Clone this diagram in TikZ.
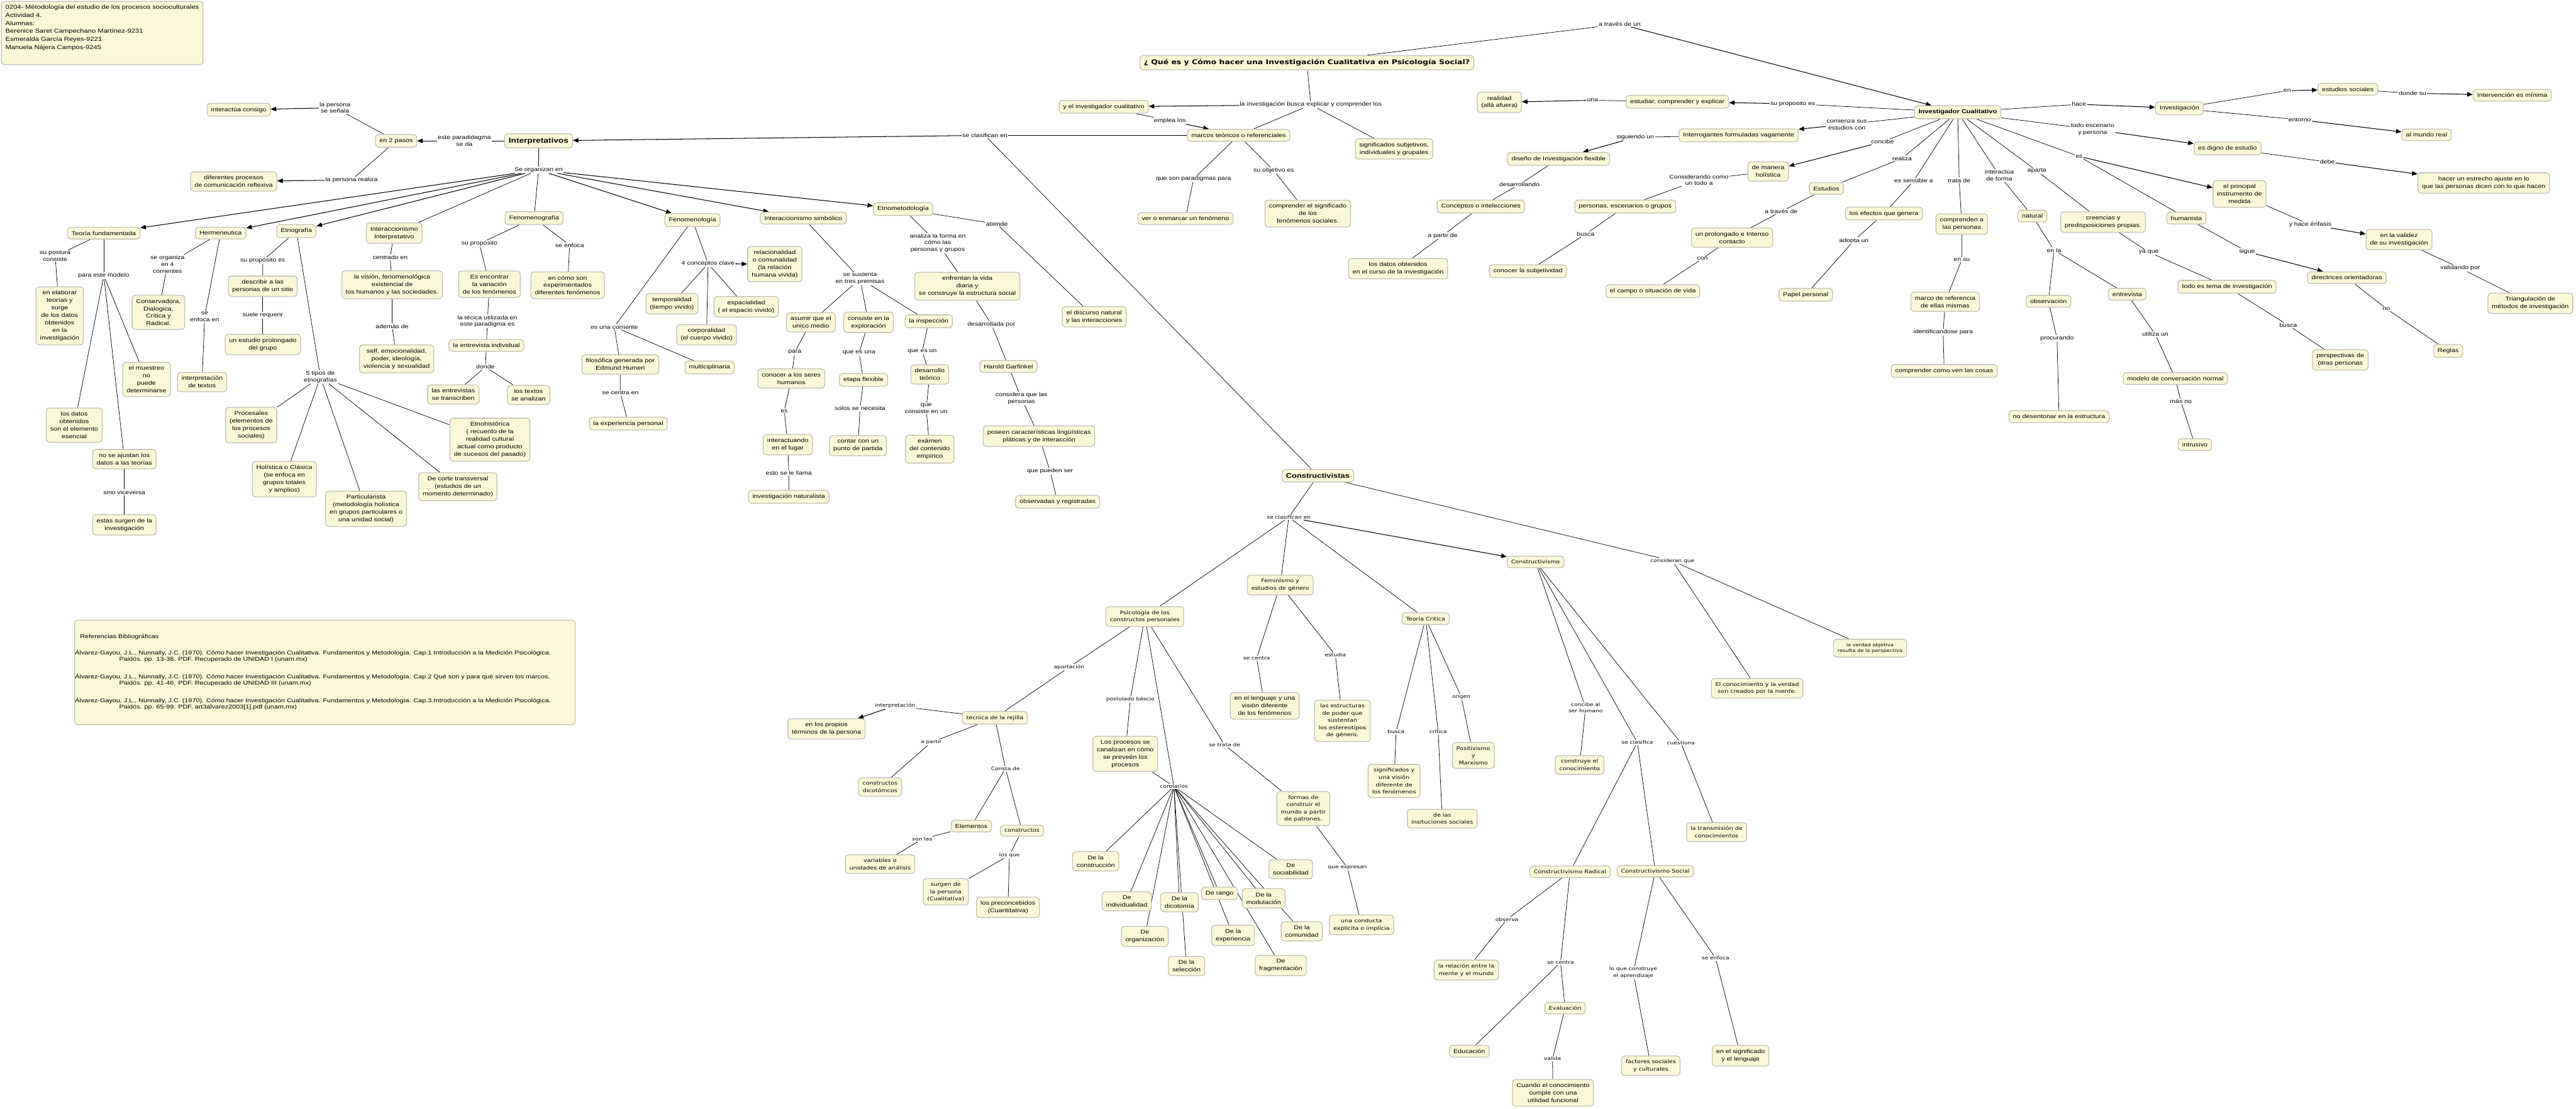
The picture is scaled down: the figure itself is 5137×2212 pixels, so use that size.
\documentclass[tikz,border=0pt]{standalone}
\usepackage{fontspec}
\setmainfont{Liberation Sans}[FakeStretch=1.2]
\newfontfamily\verdfont{DejaVu Sans}[FakeStretch=1.2]
\usetikzlibrary{positioning,arrows.meta,backgrounds}
\definecolor{cmfill}{RGB}{250,248,214}
\definecolor{cmline}{RGB}{192,192,182}
\tikzset{
  concept/.style={draw=cmline, fill=cmfill, line width=1.6pt, rounded corners=6pt,
    inner xsep=8pt, inner ysep=7.5pt, align=center, font=\fontsize{11.3}{15}\selectfont},
  vconcept/.style={concept, font=\verdfont\fontsize{10}{14.5}\selectfont},
  vsmall/.style={concept, font=\verdfont\fontsize{8.7}{12}\selectfont},
  hub/.style={concept, font=\bfseries\fontsize{14.3}{17}\selectfont},
  link/.style={inner sep=1.5pt, align=center, font=\fontsize{11}{13.5}\selectfont},
  vlink/.style={link, font=\verdfont\fontsize{9.5}{13}\selectfont},
  infobox/.style={draw=cmline, fill=cmfill, line width=1.6pt, rounded corners=6pt},
  conn/.style={draw=black, line width=0.9pt},
  arr/.style={conn, line width=1.3pt, -{Triangle[length=11pt,width=9pt]}},
}
\begin{document}
\begin{tikzpicture}[x=1pt, y=-1pt, on grid]
\useasboundingbox (0,0) rectangle (5137,2212);

% datos del trabajo
\node[infobox, anchor=north west, inner xsep=8pt, inner ysep=7pt,
  font=\fontsize{11.7}{16}\selectfont] (header) at (2,2)
  {\parbox[t][112pt][t]{386pt}{\raggedright
   0204- Métodología del estudio de los procesos socioculturales\\
   Actividad 4.\\
   Alumnas:\\
   Berenice Saret Campechano Martínez-9231\\
   Esmeralda García Reyes-9221\\
   Manuela Nájera Campos-9245}};

\node[infobox, anchor=north west, inner xsep=1pt, inner ysep=2pt,
  font=\fontsize{11.3}{12.5}\selectfont] (refs) at (148,1236)
  {\parbox[t][205pt][t]{996pt}{\raggedright\vspace*{26pt}
   \hspace*{10pt}\mbox{Referencias Bibliográficas}\\[20.5pt]
   \mbox{Álvarez-Gayou, J.L., Nunnally, J.C. (1970). Cómo hacer Investigación Cualitativa. Fundamentos y Metodología. Cap.1 Introducción a la Medición Psicológica.}\\
   \hspace*{88pt}\mbox{Paidós. pp. 13-38. PDF. Recuperado de UNIDAD I (unam.mx)}\\[22.5pt]
   \mbox{Álvarez-Gayou, J.L., Nunnally, J.C. (1970). Cómo hacer Investigación Cualitativa. Fundamentos y Metodología. Cap.2 Qué son y para qué sirven los marcos.}\\
   \hspace*{88pt}\mbox{Paidós. pp. 41-46. PDF. Recuperado de UNIDAD III (unam.mx)}\\[22.5pt]
   \mbox{Álvarez-Gayou, J.L., Nunnally, J.C. (1970). Cómo hacer Investigación Cualitativa. Fundamentos y Metodología. Cap.3.Introducción a la Medición Psicológica.}\\
   \hspace*{88pt}\mbox{Paidós. pp. 65-99. PDF. art3alvarez2003[1].pdf (unam.mx)}}};

% pregunta central
\node[hub, font=\verdfont\bfseries\fontsize{13}{16}\selectfont] (title) at (2606,125) {¿ Qué es y Cómo hacer una Investigación Cualitativa en Psicología Social?};
\node[link, above right=77pt and 624pt of title] (l-atraves) {a través de un};
\node[concept, font=\bfseries\fontsize{11.5}{14}\selectfont, below right=176pt and 674pt of l-atraves] (invcual) {Investigador Cualitativo};
\node[link, below right=84pt and 8pt of title] (l-busca) {la investigación busca explicar y comprender los};
\node[concept, below left=4pt and 413pt of l-busca] (yinv) {y el investigador cualitativo};
\node[concept, below left=61pt and 144pt of l-busca] (marcos) {marcos teóricos o referenciales};
\node[concept, below right=88pt and 166pt of l-busca] (signif) {significados subjetivos,\\individuales y grupales};
\node[link, below right=28pt and 132pt of yinv] (l-emplea) {emplea los};
\node[link, left=506pt of marcos] (l-clasif) {se clasifican en};
\node[link, below left=87pt and 90pt of marcos] (l-parad) {que son paradigmas para};
\node[concept, below left=79pt and 16pt of l-parad] (enmarcar) {ver o enmarcar un fenómeno};
\node[link, below right=70pt and 70pt of marcos] (l-objet) {su objetivo es};
\node[concept, below right=86pt and 68pt of l-objet] (comprsig) {comprender el significado\\de los\\fenómenos sociales.};

% Interpretativos
\node[hub, below left=11pt and 890pt of l-clasif] (interp) {Interpretativos};
\node[link, left=148pt of interp] (l-2pasos) {este paradidagma\\se da};
\node[concept, left=136pt of l-2pasos] (en2) {en 2 pasos};
\node[link, above left=66pt and 122pt of en2] (l-senala) {la persona\\se señala};
\node[concept, below left=4pt and 192pt of l-senala] (interactua) {interactúa consigo};
\node[link, below left=78pt and 89pt of en2] (l-realiza) {la persona realiza};
\node[concept, below left=3pt and 235pt of l-realiza] (difproc) {diferentes procesos\\de comunicación reflexiva};
\node[link, below=58pt of interp] (l-organ) {Se organizan en};
\node[concept, below left=126pt and 867pt of l-organ] (teoriaf) {Teoría fundamentada};
\node[concept, below left=126pt and 634pt of l-organ] (herme) {Hermeneutica};
\node[concept, below left=122pt and 483pt of l-organ] (etno) {Etnografía};
\node[concept, below left=126pt and 288pt of l-organ] (interint) {Interaccionismo\\Interpretativo};
\node[concept, below left=96pt and 9pt of l-organ] (fenogr) {Fenomenografía};
\node[concept, below right=100pt and 307pt of l-organ] (fenolog) {Fenomenología};
\node[concept, below right=96pt and 528pt of l-organ] (intsimb) {Interaccionismo simbólico};
\node[concept, below right=78pt and 727pt of l-organ] (etnomet) {Etnometodología};

% Teoría fundamentada
\node[link, below left=46pt and 97pt of teoriaf] (l-postura) {su postura\\consiste};
\node[concept, below right=119pt and 9pt of l-postura] (elaborar) {en elaborar\\teorías y\\surge\\de los datos\\obtenidos\\en la\\investigación};
\node[link, below=85pt of teoriaf] (l-modelo) {para este modelo};
\node[concept, below left=298pt and 59pt of l-modelo] (losdatos) {los datos\\obtenidos\\son el elemento\\esencial};
\node[concept, below right=366pt and 41pt of l-modelo] (noajust) {no se ajustan los\\datos a las teorías};
\node[concept, below right=207pt and 85pt of l-modelo] (muestreo) {el muestreo\\no\\puede\\determinarse};
\node[link, below=66pt of noajust] (l-visev) {sino viceversa};
\node[concept, below=65pt of l-visev] (surgen) {estas surgen de la\\investigación};

% Hermeneutica
\node[link, below left=62pt and 106pt of herme] (l-4corr) {se organiza\\en 4\\corrientes};
\node[concept, below left=96pt and 18pt of l-4corr] (conserv) {Conservadora,\\Dialogica,\\Crítica y\\Radical.};
\node[link, below left=167pt and 32pt of herme] (l-enfocah) {se\\enfoca en};
\node[concept, below left=130pt and 5pt of l-enfocah] (interptext) {interpretación\\de textos};

% Etnografía
\node[link, below left=59pt and 67pt of etno] (l-propes) {su propósito es};
\node[concept, below=51pt of l-propes] (describir) {describir a las\\personas de un sitio};
\node[link, below=58pt of describir] (l-suele) {suele requerir};
\node[concept, below=58pt of l-suele] (prolong) {un estudio prolongado\\del grupo};
\node[link, below right=291pt and 48pt of etno] (l-5tipos) {5 tipos de\\etnografías};
\node[concept, below left=96pt and 138pt of l-5tipos] (procesales) {Procesales\\(elementos de\\los procesos\\sociales)};
\node[concept, below left=204pt and 72pt of l-5tipos] (holistica) {Holística o Clásica\\(se enfoca en\\grupos totales\\y amplios)};
\node[concept, below right=263pt and 91pt of l-5tipos] (particul) {Particularista\\(metodología holística\\en grupos particulares o\\una unidad social)};
\node[concept, below right=219pt and 274pt of l-5tipos] (transv) {De corte transversal\\(estudios de un\\momento determinado)};
\node[concept, below right=125pt and 338pt of l-5tipos] (etnohist) {Etnohistórica\\( recuento de la\\realidad cultural\\actual como producto\\de sucesos del pasado)};

% Interaccionismo Interpretativo
\node[link, below left=48pt and 8pt of interint] (l-centrado) {centrado en};
\node[concept, below right=55pt and 4pt of l-centrado] (vision) {la visión, fenomenológica\\existencial de\\los humanos y las sociedades.};
\node[link, below=83pt of vision] (l-ademas) {además de};
\node[concept, below right=65pt and 9pt of l-ademas] (self) {self, emocionalidad,\\poder, ideología,\\violencia y sexualidad};

% Fenomenografía
\node[link, below left=51pt and 109pt of fenogr] (l-propos) {su propósito};
\node[concept, below right=81pt and 20pt of l-propos] (encontrar) {Es encontrar\\la variación\\de los fenómenos};
\node[link, below right=54pt and 71pt of fenogr] (l-enfocaf) {se enfoca};
\node[concept, below left=80pt and 4pt of l-enfocaf] (encomo) {en cómo son\\experimentados\\diferentes fenómenos};
\node[link, below left=74pt and 4pt of encontrar] (l-tecica) {la técica utilizada en\\este paradigma es};
\node[concept, below left=48pt and 2pt of l-tecica] (entrind) {la entrevista individual};
\node[link, below left=43pt and 2pt of entrind] (l-donde) {donde};
\node[concept, below left=55pt and 64pt of l-donde] (transcr) {las entrevistas\\se transcriben};
\node[concept, below right=56pt and 86pt of l-donde] (analiz) {los textos\\se analizan};

% Fenomenología
\node[link, below right=87pt and 31pt of fenolog] (l-4conc) {4 conceptos clave};
\node[concept, below right=1pt and 133pt of l-4conc] (relac) {relacionalidad\\o comunalidad\\(la relación\\humana vivida)};
\node[concept, below left=80pt and 72pt of l-4conc] (temporal) {temporalidad\\(tiempo vivido)};
\node[concept, below right=86pt and 76pt of l-4conc] (espacial) {espacialidad\\( el espacio vivido)};
\node[concept, below left=142pt and 3pt of l-4conc] (corporal) {corporalidad\\(el cuerpo vivido)};
\node[link, below left=213pt and 156pt of fenolog] (l-corriente) {es una corriente};
\node[concept, below right=75pt and 12pt of l-corriente] (filos) {filosófica generada por\\Edmund Humeri};
\node[concept, below right=81pt and 190pt of l-corriente] (multi) {multiciplinaria};
\node[link, below=57pt of filos] (l-centraf) {se centra en};
\node[concept, below right=61pt and 16pt of l-centraf] (experpers) {la experiencia personal};

% Interaccionismo simbólico
\node[link, below right=121pt and 113pt of intsimb] (l-premisas) {se sustenta\\en tres premisas};
\node[concept, below left=87pt and 98pt of l-premisas] (asumir) {asumir que el\\unico medio};
\node[concept, below right=87pt and 17pt of l-premisas] (consiste) {consiste en la\\exploración};
\node[concept, below right=85pt and 137pt of l-premisas] (inspec) {la inspección};
\node[link, below left=59pt and 32pt of asumir] (l-para) {para};
\node[concept, below left=53pt and 7pt of l-para] (conocer) {conocer a los seres\\humanos};
\node[link, below left=65pt and 14pt of conocer] (l-esis) {es};
\node[concept, below right=67pt and 7pt of l-esis] (interactuando) {interactuando\\en el lugar};
\node[link, below right=56pt and 2pt of interactuando] (l-llama) {esto se le llama};
\node[concept, below=48pt of l-llama] (naturalista) {investigación naturalista};
\node[link, below left=61pt and 19pt of consiste] (l-esuna) {que es una};
\node[concept, below right=54pt and 9pt of l-esuna] (etapa) {etapa flexible};
\node[link, below left=57pt and 7pt of etapa] (l-solos) {solos se necesita};
\node[concept, below left=74pt and 4pt of l-solos] (contar) {contar con un\\punto de partida};
\node[link, below left=60pt and 13pt of inspec] (l-esun) {que es un};
\node[concept, below right=46pt and 15pt of l-esun] (desarr) {desarrollo\\teórico};
\node[link, below left=68pt and 7pt of desarr] (l-consisteun) {que\\consiste en un};
\node[concept, below right=81pt and 7pt of l-consisteun] (examen) {exámen\\del contenido\\empírico};

% Etnometodología
\node[link, below right=68pt and 69pt of etnomet] (l-analiza) {analiza la forma en\\cómo las\\personas y grupos};
\node[concept, below right=86pt and 59pt of l-analiza] (enfrentan) {enfrentan la vida\\diaria y\\se construye la estructura social};
\node[link, below right=76pt and 48pt of enfrentan] (l-desarrollada) {desarrollada por};
\node[concept, below right=84pt and 34pt of l-desarrollada] (garfinkel) {Harold Garfinkel};
\node[link, below right=64pt and 26pt of garfinkel] (l-considera) {considera que las\\personas};
\node[concept, below right=75pt and 35pt of l-considera] (poseen) {poseen características lingüísticas\\pláticas y de interacción};
\node[link, below right=70pt and 22pt of poseen] (l-pueden) {que pueden ser};
\node[concept, below right=61pt and 15pt of l-pueden] (observ) {observadas y registradas};
\node[link, below right=30pt and 187pt of etnomet] (l-atiende) {atiende};
\node[concept, below right=185pt and 194pt of l-atiende] (discurso) {el discurso natural\\y las interacciones};

% Investigador Cualitativo
\node[link, above left=17pt and 329pt of invcual] (l-proposito) {su proposito es};
\node[concept, above left=4pt and 230pt of l-proposito] (estudiar) {estudiar, comprender y explicar};
\node[link, above left=3pt and 169pt of estudiar] (l-una) {una};
\node[concept, below left=4pt and 186pt of l-una] (realidad) {realidad\\(allá afuera)};
\node[link, below left=24pt and 221pt of invcual] (l-comienza) {comienza sus\\estudios con};
\node[concept, below left=22pt and 216pt of l-comienza] (interrog) {Interrogantes formuladas vagamente};
\node[link, below left=4pt and 206pt of interrog] (l-siguiendo) {siguiendo un};
\node[concept, below left=43pt and 153pt of l-siguiendo] (diseno) {diseño de Investigación flexible};
\node[link, below left=51pt and 78pt of diseno] (l-desarrollando) {desarrollando};
\node[concept, below left=44pt and 77pt of l-desarrollando] (conceptos) {Conceptos o intelecciones};
\node[link, below left=58pt and 76pt of conceptos] (l-apartir) {a partir de};
\node[concept, below left=66pt and 89pt of l-apartir] (datosobt) {los datos obtenidos\\en el curso de la investigación};
\node[link, below left=59pt and 150pt of invcual] (l-concibe) {concibe};
\node[concept, below left=59pt and 228pt of l-concibe] (holistica2) {de manera\\holística};
\node[link, below left=17pt and 138pt of holistica2] (l-considerando) {Considerando como\\un todo a};
\node[concept, below left=53pt and 147pt of l-considerando] (personas) {personas, escenarios o grupos};
\node[link, below left=55pt and 79pt of personas] (l-buscap) {busca};
\node[concept, below left=74pt and 115pt of l-buscap] (subjetiv) {conocer la subjetividad};
\node[link, below left=92pt and 111pt of invcual] (l-realiza2) {realiza};
\node[concept, below left=60pt and 151pt of l-realiza2] (estudios) {Estudios};
\node[link, below left=46pt and 90pt of estudios] (l-atraves2) {a través de};
\node[concept, below left=52pt and 98pt of l-atraves2] (contacto) {un prolongado e Intenso\\contacto};
\node[link, below left=42pt and 59pt of contacto] (l-con) {con};
\node[concept, below left=65pt and 99pt of l-con] (campo) {el campo o situación de vida};
\node[link, below left=137pt and 88pt of invcual] (l-sensible) {es sensible a};
\node[concept, below left=65pt and 59pt of l-sensible] (efectos) {los efectos que genera};
\node[link, below left=54pt and 60pt of efectos] (l-adopta) {adopta un};
\node[concept, below left=108pt and 96pt of l-adopta] (papel) {Papel personal};
\node[link, below right=136pt and 3pt of invcual] (l-trata) {trata de};
\node[concept, below right=87pt and 5pt of l-trata] (comprenden) {comprenden a\\las personas};
\node[link, below=71pt of comprenden] (l-ensu) {en su};
\node[concept, below left=84pt and 33pt of l-ensu] (marco) {marco de referencia\\de ellas mismas};
\node[link, below left=61pt and 4pt of marco] (l-identif) {identificandose para};
\node[concept, below right=77pt and 2pt of l-identif] (comocosas) {comprender como ven las cosas};
\node[link, below right=126pt and 83pt of invcual] (l-interactua) {interactúa\\de forma};
\node[concept, below right=81pt and 66pt of l-interactua] (natural) {natural};
\node[link, below right=68pt and 43pt of natural] (l-enla) {en la};
\node[concept, below left=102pt and 11pt of l-enla] (observacion) {observación};
\node[link, below right=74pt and 17pt of observacion] (l-procurando) {procurando};
\node[concept, below right=156pt and 4pt of l-procurando] (desentonar) {no desentonar en la estructura};
\node[concept, below right=88pt and 146pt of l-enla] (entrevista) {entrevista};
\node[link, below right=80pt and 56pt of entrevista] (l-utiliza) {utiliza un};
\node[concept, below right=88pt and 40pt of l-utiliza] (modelo) {modelo de conversación normal};
\node[link, below right=46pt and 11pt of modelo] (l-masno) {más no};
\node[concept, below right=86pt and 28pt of l-masno] (intrusivo) {intrusivo};
\node[link, below right=117pt and 158pt of invcual] (l-aparta) {aparta};
\node[concept, below right=102pt and 132pt of l-aparta] (creencias) {creencias y\\predisposiciones propias.};
\node[link, below right=60pt and 91pt of creencias] (l-yaque) {ya que};
\node[concept, below right=69pt and 156pt of l-yaque] (todotema) {todo es tema de investigación};
\node[link, below right=77pt and 122pt of todotema] (l-buscat) {busca};
\node[concept, below right=69pt and 104pt of l-buscat] (perspect) {perspectivas de\\otras personas};
\node[link, below right=88pt and 242pt of invcual] (l-es) {es};
\node[concept, below right=75pt and 320pt of l-es] (instrumento) {el principal\\instrumento de\\medida};
\node[concept, below right=123pt and 214pt of l-es] (humanista) {humanista};
\node[link, below right=67pt and 121pt of humanista] (l-sigue) {sigue};
\node[concept, below right=52pt and 199pt of l-sigue] (directrices) {directrices orientadoras};
\node[link, below right=62pt and 79pt of directrices] (l-no) {no};
\node[concept, below right=84pt and 123pt of l-no] (reglas) {Reglas};
\node[link, below right=61pt and 141pt of instrumento] (l-enfasis) {y hace énfasis};
\node[concept, below right=30pt and 177pt of l-enfasis] (validez) {en la validez\\de su investigación};
\node[link, below right=57pt and 122pt of validez] (l-validando) {validando por};
\node[concept, below right=70pt and 140pt of l-validando] (triang) {Triangulación de\\métodos de investigación};
\node[link, below right=34pt and 269pt of invcual] (l-todoesc) {todo escenario\\y persona};
\node[concept, below right=38pt and 269pt of l-todoesc] (digno) {es digno de estudio};
\node[link, below right=27pt and 199pt of digno] (l-debe) {debe};
\node[concept, below right=42pt and 312pt of l-debe] (ajuste) {hacer un estrecho ajuste en lo\\que las personas dicen con lo que hacen};
\node[link, above right=16pt and 242pt of invcual] (l-hace) {hace};
\node[concept, below right=8pt and 200pt of l-hace] (investig) {Investigación};
\node[link, above right=35pt and 215pt of investig] (l-en) {en};
\node[concept, above right=3pt and 121pt of l-en] (estsoc) {estudios sociales};
\node[link, below right=8pt and 129pt of estsoc] (l-dondesu) {donde su};
\node[concept, below right=4pt and 199pt of l-dondesu] (interv) {Intervención es mínima};
\node[link, below right=23pt and 240pt of investig] (l-entorno) {entorno};
\node[concept, below right=30pt and 253pt of l-entorno] (mundo) {al mundo real};

% Constructivistas
\node[hub, font=\bfseries\fontsize{13.5}{16}\selectfont, below right=679pt and 664pt of l-clasif] (constr) {Constructivistas};
\node[vlink, below left=83pt and 58pt of constr] (l-clasif2) {se clasifican en};
\node[vconcept, below left=198pt and 287pt of l-clasif2] (psico) {Psicología de los\\constructos personales};
\node[vconcept, below left=135pt and 17pt of l-clasif2] (femin) {Feminismo y\\estudios de género};
\node[vconcept, below right=202pt and 273pt of l-clasif2] (teoriac) {Teoría Critica};
\node[vconcept, below right=89pt and 492pt of l-clasif2] (constructivismo) {Constructivismo};
\node[vlink, below right=170pt and 707pt of constr] (l-consideran) {consideran que};
\node[vconcept, below right=254pt and 169pt of l-consideran] (conocverdad) {El conocimiento y la verdad\\son creados por la mente.};
\node[vsmall, below right=174pt and 394pt of l-consideran] (verdadobj) {la verdad objetiva\\resulta de la perspectiva};

% Psicología de los constructos personales
\node[vlink, below left=101pt and 151pt of psico] (l-aport) {aportación};
\node[vconcept, below left=101pt and 148pt of l-aport] (rejilla) {técnica de la rejilla};
\node[vlink, above left=24pt and 199pt of rejilla] (l-interp) {interpretación};
\node[concept, below left=46pt and 137pt of l-interp] (propios) {en los propios\\términos de la persona};
\node[vlink, below left=49pt and 127pt of rejilla] (l-apartir2) {a partir};
\node[vconcept, below left=89pt and 102pt of l-apartir2] (dicot) {constructos\\dicotómcos};
\node[vlink, below right=101pt and 21pt of rejilla] (l-consta) {Consta de};
\node[concept, below left=115pt and 68pt of l-consta] (elementos) {Elementos};
\node[vconcept, below right=124pt and 33pt of l-consta] (constructos) {constructos};
\node[vlink, below left=26pt and 98pt of elementos] (l-sonlas) {son las};
\node[vconcept, below left=50pt and 84pt of l-sonlas] (variables) {variables o\\unidades de análisis};
\node[vlink, below left=49pt and 25pt of constructos] (l-losque) {los que};
\node[vconcept, below left=73pt and 127pt of l-losque] (surgenp) {surgen de\\la persona\\(Cualitativa)};
\node[concept, below left=104pt and 3pt of l-losque] (precon) {los preconcebidos\\(Cuantitativa)};
\node[vlink, below left=165pt and 29pt of psico] (l-postulado) {postulado báscio};
\node[concept, below left=109pt and 10pt of l-postulado] (procesos) {Los procesos se\\canalizan en cómo\\se preveén los\\procesos};
\node[vlink, below right=339pt and 58pt of psico] (l-corol) {corolarios};
\node[concept, below left=149pt and 156pt of l-corol] (cor1) {De la\\construcción};
\node[concept, below left=229pt and 94pt of l-corol] (cor2) {De\\individualidad};
\node[concept, below left=299pt and 58pt of l-corol] (cor3) {De\\organización};
\node[concept, below right=231pt and 11pt of l-corol] (cor4) {De la\\dicotomía};
\node[concept, below right=358pt and 25pt of l-corol] (cor5) {De la\\selección};
\node[concept, below right=213pt and 91pt of l-corol] (cor6) {De rango};
\node[concept, below right=297pt and 118pt of l-corol] (cor7) {De la\\experiencia};
\node[concept, below right=223pt and 179pt of l-corol] (cor8) {De la\\modulación};
\node[concept, below right=357pt and 213pt of l-corol] (cor9) {De\\fragmentación};
\node[concept, below right=289pt and 255pt of l-corol] (cor10) {De la\\comunidad};
\node[concept, below right=165pt and 233pt of l-corol] (cor11) {De\\sociabilidad};
\node[vlink, below right=256pt and 159pt of psico] (l-tratade) {se trata de};
\node[vconcept, below right=127pt and 157pt of l-tratade] (formas) {formas de\\construir el\\mundo a partir\\de patrones.};
\node[vlink, below right=118pt and 88pt of formas] (l-expresan) {que expresan};
\node[vconcept, below right=114pt and 28pt of l-expresan] (conducta) {una conducta\\explicita o implícia};

% Feminismo y Teoría Critica
\node[vlink, below left=146pt and 47pt of femin] (l-centra2) {se centra};
\node[concept, below right=95pt and 16pt of l-centra2] (lenguaje) {en el lenguaje y una\\visión diferente\\de los fenómenos};
\node[vlink, below right=140pt and 110pt of femin] (l-estudia) {estudia};
\node[vconcept, below right=131pt and 14pt of l-estudia] (estructuras) {las estructuras\\de poder que\\sustentan\\los estereotipos\\de género.};
\node[vlink, below left=226pt and 59pt of teoriac] (l-buscatc) {busca};
\node[vconcept, below left=98pt and 4pt of l-buscatc] (signif2) {significados y\\una visión\\diferente de\\los fenómenos};
\node[vlink, below right=226pt and 25pt of teoriac] (l-critica) {critica};
\node[vconcept, below right=173pt and 8pt of l-critica] (instit) {de las\\insituciones sociales};
\node[vlink, below right=156pt and 71pt of teoriac] (l-origen) {origen};
\node[vconcept, below right=117pt and 24pt of l-origen] (positiv) {Positivismo\\y\\Marxismo};

% Constructivismo
\node[vlink, below right=291pt and 100pt of constructivismo] (l-concibeal) {concibe al\\ser humano};
\node[vconcept, below left=114pt and 12pt of l-concibeal] (construye) {construye el\\conocimiento};
\node[vlink, below right=360pt and 203pt of constructivismo] (l-seclasifica) {se clasifica};
\node[vconcept, below left=258pt and 134pt of l-seclasifica] (radical) {Constructivismo Radical};
\node[vconcept, below right=257pt and 36pt of l-seclasifica] (social) {Constructivismo Social};
\node[vlink, below right=361pt and 290pt of constructivismo] (l-cuestiona) {cuestiona};
\node[vconcept, below right=178pt and 71pt of l-cuestiona] (transm) {la transmisión de\\conocimientos};
\node[vlink, below left=95pt and 126pt of radical] (l-observa) {observa};
\node[vconcept, below left=101pt and 81pt of l-observa] (relmente) {la relación entre la\\mente y el mundo};
\node[vlink, below left=181pt and 19pt of radical] (l-secentra3) {se centra};
\node[vconcept, below right=91pt and 9pt of l-secentra3] (evaluacion) {Evaluación};
\node[concept, below left=177pt and 182pt of l-secentra3] (educacion) {Educación};
\node[vlink, below left=101pt and 25pt of evaluacion] (l-valida) {valida};
\node[concept, below right=68pt and 1pt of l-valida] (cuando) {Cuando el conocimiento\\cumple con una\\utilidad funcional};
\node[vlink, below left=202pt and 44pt of social] (l-loque) {lo que construye\\el aprendizaje};
\node[vconcept, below right=186pt and 35pt of l-loque] (factores) {factores sociales\\y culturales};
\node[vlink, below right=173pt and 120pt of social] (l-seenfoca) {se enfoca};
\node[concept, below right=195pt and 50pt of l-seenfoca] (significado) {en el significado\\y el lenguaje};

\begin{scope}[on background layer]
% pregunta central
\draw[conn] (title) -- (l-atraves);
\draw[arr] (l-atraves) -- (invcual);
\draw[conn] (title) -- (l-busca);
\draw[arr] (l-busca) -- (yinv);
\foreach \t in {marcos,signif} \draw[conn] (l-busca) -- (\t);
\draw[conn] (yinv) -- (l-emplea);
\draw[arr] (l-emplea) -- (marcos);
\draw[conn] (marcos) -- (l-clasif);
\draw[arr] (l-clasif) -- (interp);
\draw[conn] (l-clasif) -- (constr);
\draw[conn] (marcos) -- (l-parad) (l-parad) -- (enmarcar);
\draw[conn] (marcos) -- (l-objet) (l-objet) -- (comprsig);
% Interpretativos
\draw[conn] (interp) -- (l-2pasos);
\draw[arr] (l-2pasos) -- (en2);
\draw[conn] (en2) -- (l-senala);
\draw[arr] (l-senala) -- (interactua);
\draw[conn] (en2) -- (l-realiza);
\draw[arr] (l-realiza) -- (difproc);
\draw[conn] (interp) -- (l-organ);
\foreach \t in {teoriaf,herme,etno,fenolog,intsimb,etnomet} \draw[arr] (l-organ) -- (\t);
\foreach \t in {interint,fenogr} \draw[conn] (l-organ) -- (\t);
\draw[conn] (teoriaf) -- (l-postura) (l-postura) -- (elaborar);
\draw[conn] (teoriaf) -- (l-modelo);
\foreach \t in {losdatos,noajust,muestreo} \draw[conn] (l-modelo) -- (\t);
\draw[conn] (noajust) -- (l-visev) (l-visev) -- (surgen);
\draw[conn] (herme) -- (l-4corr) (l-4corr) -- (conserv);
\draw[conn] (herme) -- (l-enfocah) (l-enfocah) -- (interptext);
\draw[conn] (etno) -- (l-propes) (l-propes) -- (describir);
\draw[conn] (describir) -- (l-suele) (l-suele) -- (prolong);
\draw[conn] (etno) -- (l-5tipos);
\foreach \t in {procesales,holistica,particul,transv,etnohist} \draw[conn] (l-5tipos) -- (\t);
\draw[conn] (interint) -- (l-centrado) (l-centrado) -- (vision);
\draw[conn] (vision) -- (l-ademas) (l-ademas) -- (self);
\draw[conn] (fenogr) -- (l-propos) (l-propos) -- (encontrar);
\draw[conn] (fenogr) -- (l-enfocaf) (l-enfocaf) -- (encomo);
\draw[conn] (encontrar) -- (l-tecica) (l-tecica) -- (entrind);
\draw[conn] (entrind) -- (l-donde);
\foreach \t in {transcr,analiz} \draw[conn] (l-donde) -- (\t);
\draw[conn] (fenolog) -- (l-4conc);
\draw[arr] (l-4conc) -- (relac);
\foreach \t in {temporal,espacial,corporal} \draw[conn] (l-4conc) -- (\t);
\draw[conn] (fenolog) -- (l-corriente);
\foreach \t in {filos,multi} \draw[conn] (l-corriente) -- (\t);
\draw[conn] (filos) -- (l-centraf) (l-centraf) -- (experpers);
\draw[conn] (intsimb) -- (l-premisas);
\foreach \t in {asumir,consiste,inspec} \draw[conn] (l-premisas) -- (\t);
\draw[conn] (asumir) -- (l-para) (l-para) -- (conocer);
\draw[conn] (conocer) -- (l-esis) (l-esis) -- (interactuando);
\draw[conn] (interactuando) -- (l-llama) (l-llama) -- (naturalista);
\draw[conn] (consiste) -- (l-esuna) (l-esuna) -- (etapa);
\draw[conn] (etapa) -- (l-solos) (l-solos) -- (contar);
\draw[conn] (inspec) -- (l-esun) (l-esun) -- (desarr);
\draw[conn] (desarr) -- (l-consisteun) (l-consisteun) -- (examen);
\draw[conn] (etnomet) -- (l-analiza) (l-analiza) -- (enfrentan);
\draw[conn] (enfrentan) -- (l-desarrollada) (l-desarrollada) -- (garfinkel);
\draw[conn] (garfinkel) -- (l-considera) (l-considera) -- (poseen);
\draw[conn] (poseen) -- (l-pueden) (l-pueden) -- (observ);
\draw[conn] (etnomet) -- (l-atiende) (l-atiende) -- (discurso);
% Investigador Cualitativo
\draw[conn] (invcual) -- (l-proposito);
\draw[arr] (l-proposito) -- (estudiar);
\draw[conn] (estudiar) -- (l-una);
\draw[arr] (l-una) -- (realidad);
\draw[conn] (invcual) -- (l-comienza);
\draw[arr] (l-comienza) -- (interrog);
\draw[conn] (interrog) -- (l-siguiendo);
\draw[arr] (l-siguiendo) -- (diseno);
\draw[conn] (diseno) -- (l-desarrollando) (l-desarrollando) -- (conceptos);
\draw[conn] (conceptos) -- (l-apartir) (l-apartir) -- (datosobt);
\draw[conn] (invcual) -- (l-concibe);
\draw[arr] (l-concibe) -- (holistica2);
\draw[conn] (holistica2) -- (l-considerando) (l-considerando) -- (personas);
\draw[conn] (personas) -- (l-buscap) (l-buscap) -- (subjetiv);
\draw[conn] (invcual) -- (l-realiza2) (l-realiza2) -- (estudios);
\draw[conn] (estudios) -- (l-atraves2) (l-atraves2) -- (contacto);
\draw[conn] (contacto) -- (l-con) (l-con) -- (campo);
\draw[conn] (invcual) -- (l-sensible) (l-sensible) -- (efectos);
\draw[conn] (efectos) -- (l-adopta) (l-adopta) -- (papel);
\draw[conn] (invcual) -- (l-trata) (l-trata) -- (comprenden);
\draw[conn] (comprenden) -- (l-ensu) (l-ensu) -- (marco);
\draw[conn] (marco) -- (l-identif) (l-identif) -- (comocosas);
\draw[conn] (invcual) -- (l-interactua) (l-interactua) -- (natural);
\draw[conn] (natural) -- (l-enla);
\foreach \t in {observacion,entrevista} \draw[conn] (l-enla) -- (\t);
\draw[conn] (observacion) -- (l-procurando) (l-procurando) -- (desentonar);
\draw[conn] (entrevista) -- (l-utiliza) (l-utiliza) -- (modelo);
\draw[conn] (modelo) -- (l-masno) (l-masno) -- (intrusivo);
\draw[conn] (invcual) -- (l-aparta) (l-aparta) -- (creencias);
\draw[conn] (creencias) -- (l-yaque) (l-yaque) -- (todotema);
\draw[conn] (todotema) -- (l-buscat) (l-buscat) -- (perspect);
\draw[conn] (invcual) -- (l-es);
\draw[arr] (l-es) -- (instrumento);
\draw[conn] (l-es) -- (humanista);
\draw[conn] (humanista) -- (l-sigue);
\draw[arr] (l-sigue) -- (directrices);
\draw[conn] (directrices) -- (l-no) (l-no) -- (reglas);
\draw[conn] (instrumento) -- (l-enfasis);
\draw[arr] (l-enfasis) -- (validez);
\draw[conn] (validez) -- (l-validando) (l-validando) -- (triang);
\draw[conn] (invcual) -- (l-todoesc);
\draw[arr] (l-todoesc) -- (digno);
\draw[conn] (digno) -- (l-debe);
\draw[arr] (l-debe) -- (ajuste);
\draw[conn] (invcual) -- (l-hace);
\draw[arr] (l-hace) -- (investig);
\draw[conn] (investig) -- (l-en);
\draw[arr] (l-en) -- (estsoc);
\draw[conn] (estsoc) -- (l-dondesu);
\draw[arr] (l-dondesu) -- (interv);
\draw[conn] (investig) -- (l-entorno);
\draw[arr] (l-entorno) -- (mundo);
% Constructivistas
\draw[conn] (constr) -- (l-clasif2);
\foreach \t in {psico,femin,teoriac} \draw[conn] (l-clasif2) -- (\t);
\draw[arr] (l-clasif2) -- (constructivismo);
\draw[conn] (constr) -- (l-consideran);
\foreach \t in {conocverdad,verdadobj} \draw[conn] (l-consideran) -- (\t);
\draw[conn] (psico) -- (l-aport) (l-aport) -- (rejilla);
\draw[conn] (rejilla) -- (l-interp);
\draw[arr] (l-interp) -- (propios);
\draw[conn] (rejilla) -- (l-apartir2) (l-apartir2) -- (dicot);
\draw[conn] (rejilla) -- (l-consta);
\foreach \t in {elementos,constructos} \draw[conn] (l-consta) -- (\t);
\draw[conn] (elementos) -- (l-sonlas) (l-sonlas) -- (variables);
\draw[conn] (constructos) -- (l-losque);
\foreach \t in {surgenp,precon} \draw[conn] (l-losque) -- (\t);
\draw[conn] (psico) -- (l-postulado) (l-postulado) -- (procesos);
\draw[conn] (psico) -- (l-corol) (procesos) -- (l-corol);
\foreach \t in {cor1,cor2,cor3,cor4,cor5,cor6,cor7,cor8,cor9,cor10,cor11} \draw[conn] (l-corol) -- (\t);
\draw[conn] (psico) -- (l-tratade) (l-tratade) -- (formas);
\draw[conn] (formas) -- (l-expresan) (l-expresan) -- (conducta);
\draw[conn] (femin) -- (l-centra2) (l-centra2) -- (lenguaje);
\draw[conn] (femin) -- (l-estudia) (l-estudia) -- (estructuras);
\draw[conn] (teoriac) -- (l-buscatc) (l-buscatc) -- (signif2);
\draw[conn] (teoriac) -- (l-critica) (l-critica) -- (instit);
\draw[conn] (teoriac) -- (l-origen) (l-origen) -- (positiv);
\draw[conn] (constructivismo) -- (l-concibeal) (l-concibeal) -- (construye);
\draw[conn] (constructivismo) -- (l-seclasifica);
\foreach \t in {radical,social} \draw[conn] (l-seclasifica) -- (\t);
\draw[conn] (constructivismo) -- (l-cuestiona) (l-cuestiona) -- (transm);
\draw[conn] (radical) -- (l-observa) (l-observa) -- (relmente);
\draw[conn] (radical) -- (l-secentra3);
\foreach \t in {evaluacion,educacion} \draw[conn] (l-secentra3) -- (\t);
\draw[conn] (evaluacion) -- (l-valida) (l-valida) -- (cuando);
\draw[conn] (social) -- (l-loque) (l-loque) -- (factores);
\draw[conn] (social) -- (l-seenfoca) (l-seenfoca) -- (significado);
\end{scope}
\end{tikzpicture}
\end{document}
